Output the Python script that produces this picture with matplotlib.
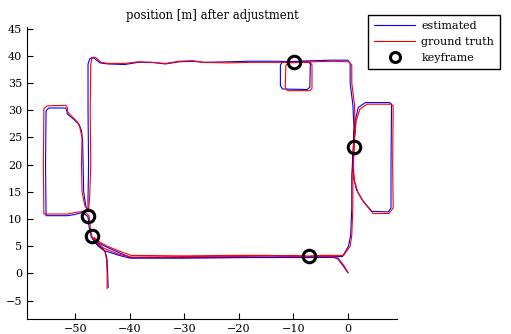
import matplotlib
matplotlib.use("Agg")
import matplotlib.pyplot as plt

plt.rcParams['font.family'] = ['DejaVu Serif']

# ground truth path (x, y) [m]
gt_x = [-44.2, -44.2, -44.3, -44.6, -45.3, -46.4, -47.0, -47.3, -47.5,
        -48.5, -50.0, -51.5, -55.8, -55.9, -55.8, -55.2, -51.8, -51.5, -51.4, -50.5, -49.6, -49.2, -48.8,
        -48.9, -48.8, -48.3, -47.6,
        -47.4, -47.2, -47.3, -47.2, -47.0, -46.6, -46.2, -45.3, -44.0, -41.0, -38.5, -36.0, -33.5, -31.0,
        -28.5, -26.5, -22.0, -18.0, -12.5, -9.9, -6.9,
        -6.6, -6.6, -7.0, -11.1, -11.5, -11.4, -11.0,
        -6.3, -3.0, 0.2, 0.7, 0.7, 1.2, 1.3, 1.1, 1.0, 1.2,
        1.8, 2.8, 4.6, 7.5, 8.3, 8.2, 8.3, 7.9, 3.5, 2.2, 1.5, 1.1, 0.9, 0.9, 0.7, 0.4, -0.8,
        -5.0, -7.2, -15.0, -22.0, -30.0, -39.8, -42.0, -44.2, -45.8, -46.6,
        -45.8, -44.8, -42.0, -40.0, -30.0, -20.0, -10.0, -3.0, -1.8, -0.8, 0.0]
gt_y = [-2.8, 0.0, 2.5, 4.0, 5.0, 5.9, 6.8, 8.5, 10.6,
        11.4, 11.2, 10.9, 10.9, 20.0, 30.3, 30.8, 30.9, 30.5, 29.6, 28.7, 27.8, 26.8, 25.0,
        20.0, 15.0, 12.5, 11.5,
        14.0, 20.0, 30.0, 38.5, 39.5, 39.8, 39.6, 38.8, 38.6, 38.6, 38.9, 38.8, 38.6, 39.0,
        39.1, 38.8, 38.7, 38.8, 38.8, 38.8, 38.8,
        38.3, 34.0, 33.6, 33.6, 34.2, 38.2, 38.7,
        38.9, 39.0, 38.9, 38.3, 35.0, 31.0, 27.0, 23.3, 19.5, 17.0,
        15.0, 13.2, 11.0, 11.0, 12.0, 20.0, 30.8, 31.1, 31.1, 30.2, 28.0, 23.3, 18.0, 12.0, 7.0, 5.0, 3.3,
        3.3, 3.1, 3.3, 3.3, 3.2, 3.3, 4.1, 5.0, 5.9, 6.6,
        5.4, 4.6, 3.5, 3.0, 3.0, 3.1, 3.2, 3.1, 2.8, 1.5, 0.2]

# estimated path (x, y) [m]
est_x = [-44.0, -44.1, -44.2, -44.5, -45.4, -46.5, -47.1, -47.5, -47.7,
         -48.7, -50.2, -51.5, -55.4, -55.5, -55.4, -54.9, -51.8, -51.6, -51.5, -50.3, -49.3, -48.9, -48.7,
         -48.6, -48.5, -48.1, -47.7,
         -47.7, -47.6, -47.7, -47.7, -47.4, -47.0, -46.5, -45.5, -44.0, -41.0, -38.5, -36.0, -33.5, -31.0,
         -28.5, -26.5, -22.0, -18.0, -13.0, -9.9, -7.3,
         -6.9, -7.0, -7.5, -12.0, -12.4, -12.4, -12.0,
         -6.5, -3.0, 0.0, 0.4, 0.4, 0.9, 1.1, 1.0, 0.9, 1.1,
         1.6, 2.6, 4.4, 7.4, 7.9, 7.9, 8.0, 7.6, 3.2, 1.9, 1.3, 1.0, 0.7, 0.7, 0.5, 0.1, -1.0,
         -5.0, -7.2, -15.0, -22.0, -30.0, -39.8, -42.0, -44.2, -45.8, -46.7,
         -45.9, -44.8, -42.0, -40.0, -30.0, -20.0, -10.0, -3.0, -1.9, -0.9, 0.0]
est_y = [-2.6, 0.0, 2.5, 3.9, 4.8, 5.7, 6.7, 8.5, 10.4,
         11.2, 10.8, 10.6, 10.6, 20.0, 29.9, 30.4, 30.4, 29.9, 29.3, 28.3, 27.3, 26.2, 24.5,
         20.0, 15.0, 12.3, 11.3,
         14.0, 20.0, 30.0, 38.5, 39.4, 39.7, 39.5, 38.7, 38.5, 38.4, 38.8, 38.8, 38.5, 38.9,
         39.0, 38.8, 38.9, 39.0, 39.0, 38.9, 38.9,
         38.5, 34.2, 33.8, 33.9, 34.5, 38.3, 38.9,
         39.1, 39.2, 39.2, 38.6, 35.0, 31.0, 27.0, 23.3, 19.5, 17.2,
         15.3, 13.5, 11.4, 11.3, 12.0, 20.0, 31.1, 31.4, 31.4, 30.5, 28.0, 23.3, 18.0, 12.0, 7.0, 5.0, 3.1,
         3.0, 2.9, 2.9, 2.9, 2.9, 2.9, 3.8, 4.8, 5.6, 6.3,
         5.1, 4.2, 3.3, 2.8, 2.8, 2.9, 3.0, 3.0, 2.7, 1.4, 0.1]

# keyframe positions
kf_x = [-9.9, 1.1, -47.7, -47.0, -7.2]
kf_y = [38.8, 23.3, 10.6, 6.8, 3.1]

fig = plt.figure(figsize=(5.11, 3.34), dpi=100)
ax = fig.add_axes([27 / 511, 15 / 334, 370 / 511, 292 / 334])

l1, = ax.plot(est_x, est_y, color='blue', lw=0.8)
l2, = ax.plot(gt_x, gt_y, color='red', lw=0.8)
l3, = ax.plot(kf_x, kf_y, 'o', ms=9, mfc='none', mec='black', mew=2.2, ls='none')

ax.set_xlim(-58.9, 9.0)
ax.set_ylim(-8.4, 45.3)
ax.set_xticks(range(-50, 1, 10))
ax.set_yticks(range(-5, 46, 5))
ax.spines['top'].set_visible(False)
ax.spines['right'].set_visible(False)
ax.tick_params(direction='in', length=4, labelsize=8)
ax.set_title('position [m] after adjustment', fontsize=8.4, pad=6)

leg = fig.legend([l1, l2, l3], ['estimated', 'ground truth', 'keyframe'],
                 loc='upper left', bbox_to_anchor=(368 / 511, 1 - 15 / 334),
                 borderaxespad=0, fontsize=8, handlelength=3.7, handletextpad=0.55,
                 labelspacing=0.55, borderpad=0.55, fancybox=False, framealpha=1,
                 markerscale=0.8)
leg.get_frame().set_edgecolor('black')
leg.get_frame().set_linewidth(1.0)

fig.savefig('out.png', dpi=100)
